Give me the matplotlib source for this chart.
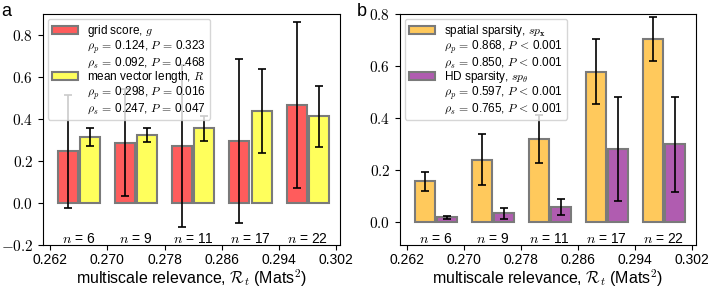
import matplotlib
matplotlib.use("Agg")
import matplotlib.pyplot as plt
from matplotlib.patches import Rectangle
from matplotlib.ticker import FuncFormatter
import numpy as np

plt.rcParams['font.family'] = ['Liberation Sans', 'DejaVu Sans']
plt.rcParams['mathtext.fontset'] = 'cm'

# bin centres of multiscale relevance (Mats^2)
centers = [0.266, 0.274, 0.282, 0.290, 0.298]
counts = [6, 9, 11, 17, 22]

# panel a
grid_score = [0.246, 0.288, 0.272, 0.296, 0.466]
grid_err = [0.270, 0.255, 0.387, 0.390, 0.394]
mvl = [0.314, 0.324, 0.355, 0.438, 0.412]
mvl_err = [0.041, 0.035, 0.060, 0.201, 0.143]

# panel b
sp_x = [0.155, 0.238, 0.319, 0.578, 0.704]
sp_x_err = [0.037, 0.098, 0.092, 0.125, 0.085]
sp_hd = [0.017, 0.032, 0.057, 0.281, 0.298]
sp_hd_err = [0.006, 0.020, 0.030, 0.200, 0.183]

xticks = [0.262, 0.270, 0.278, 0.286, 0.294, 0.302]

fig = plt.figure(figsize=(7.08, 2.89), dpi=100)
ax_a = fig.add_axes([43/708, 1-245/289, 297/708, 231/289])
ax_b = fig.add_axes([400/708, 1-245/289, 296/708, 231/289])

w = 0.0028
off = 0.00155
edge = '#7a7a7a'
eq = r'$\,=\,$'
lt = r'$\,<\,$'


def stat(sym, rho, P, rel=eq):
    return r'$\rho_%s$' % sym + eq + rho + r', $P$' + rel + P


def draw(ax, v1, e1, v2, e2, c1, c2, lab1, stats1, lab2, stats2, ylim, yt):
    x = np.array(centers)
    ax.bar(x - off, v1, width=w, color=c1, edgecolor=edge, linewidth=1.5, zorder=1)
    ax.bar(x + off, v2, width=w, color=c2, edgecolor=edge, linewidth=1.5, zorder=1)
    ax.errorbar(x - off, v1, yerr=e1, fmt='none', ecolor='black', elinewidth=1.2,
                capsize=3, capthick=1.2, zorder=2)
    ax.errorbar(x + off, v2, yerr=e2, fmt='none', ecolor='black', elinewidth=1.2,
                capsize=3, capthick=1.2, zorder=2)
    for xc, n in zip(centers, counts):
        ax.text(xc, 0.028, r'$n$ = %d' % n, transform=ax.get_xaxis_transform(),
                ha='center', va='center', fontsize=10)
    ax.set_xlim(0.2610, 0.3025)
    ax.set_ylim(*ylim)
    ax.set_xticks(xticks)
    ax.set_xticklabels(['%.3f' % t for t in xticks], fontsize=10)
    ax.set_yticks(yt)
    ax.yaxis.set_major_formatter(FuncFormatter(lambda v, p: r'$%.1f$' % v))
    ax.tick_params(axis='y', labelsize=11)
    ax.tick_params(axis='x', pad=2)
    ax.set_xlabel(r'multiscale relevance, $\mathcal{R}_t$ (Mats$^2$)', fontsize=11.5,
                  labelpad=1)
    blank = Rectangle((0, 0), 1, 1, alpha=0)
    h1 = Rectangle((0, 0), 1, 1, facecolor=c1, edgecolor=edge, linewidth=1.5)
    h2 = Rectangle((0, 0), 1, 1, facecolor=c2, edgecolor=edge, linewidth=1.5)
    handles = [h1, blank, blank, h2, blank, blank]
    labels = [lab1] + stats1 + [lab2] + stats2
    leg = ax.legend(handles, labels, loc='upper left', fontsize=8.5, handlelength=2.2,
                    handleheight=0.65, labelspacing=-0.05, borderpad=0.35,
                    handletextpad=0.8, framealpha=0.8, borderaxespad=0.4)
    leg.set_zorder(5)


draw(ax_a, grid_score, grid_err, mvl, mvl_err, '#ff5c5c', '#ffff5c',
     r'grid score, $g$',
     [stat('p', '0.124', '0.323'), stat('s', '0.092', '0.468')],
     r'mean vector length, $R$',
     [stat('p', '0.298', '0.016'), stat('s', '0.247', '0.047')],
     (-0.2, 0.9), [-0.2, 0.0, 0.2, 0.4, 0.6, 0.8])

draw(ax_b, sp_x, sp_x_err, sp_hd, sp_hd_err, '#ffc95c', '#b05cb0',
     r'spatial sparsity, $sp_{\mathbf{x}}$',
     [stat('p', '0.868', '0.001', lt), stat('s', '0.850', '0.001', lt)],
     r'HD sparsity, $sp_\theta$',
     [stat('p', '0.597', '0.001', lt), stat('s', '0.765', '0.001', lt)],
     (-0.09, 0.8), [0.0, 0.2, 0.4, 0.6, 0.8])

fig.text(0.002, 0.99, 'a', fontsize=13, va='top', ha='left')
fig.text(357/708, 0.99, 'b', fontsize=13, va='top', ha='left')

fig.savefig('out.png', dpi=100)
